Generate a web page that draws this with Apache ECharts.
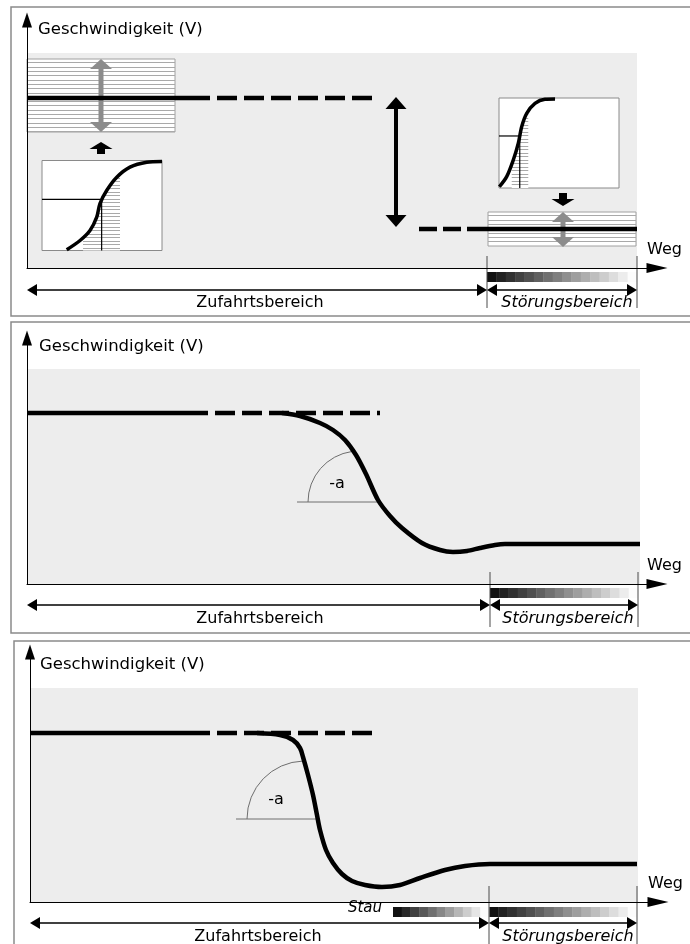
<!DOCTYPE html>
<html>
<head>
<meta charset="utf-8">
<title>Geschwindigkeit / Weg</title>
<script src="https://cdn.jsdelivr.net/npm/echarts@6.0.0/dist/echarts.min.js"></script>
<style>
    html, body { margin: 0; padding: 0; background: #fff; }
    #container { width: 690px; height: 944px; }
</style>
</head>
<body>
<div id="container"></div>
<script>
// Werte in Achseneinheiten: Weg nach rechts, Geschwindigkeit nach oben,
// Nullpunkt jeweils im Achsenkreuz des Teilbildes
var axisNames = ['Geschwindigkeit (V)', 'Weg'];
var zoneNames = ['Zufahrtsbereich', 'Störungsbereich', 'Stau'];
var slopeName = '-a';
var insetNames = ['%', 'V'];

// Bild 1: Verteilungen der Geschwindigkeit
var p1Grey = [[0, 0, 610, 215]];
var p1Free = [[0, 170], [163, 170]];
var p1FreeDash = [[163, 170], [351, 170]];
var p1SlowDash = [[392, 39], [456, 39]];
var p1Slow = [[456, 39], [610, 39]];
var p1Bands = [[0, 136, 148, 209], [461, 22, 609, 56]];
var p1BandArrows = [[74, 209, 74, 136, 1, 1], [536, 56, 536, 21, 1, 1]];
var p1DropArrow = [[369, 171, 369, 41, 1, 1]];
var p1LinkArrows = [[74, 114, 74, 126, 0, 1], [536, 75, 536, 62, 0, 1]];
var p1Zone = [460, 610];

// Summenkurven der Einschuebe (V, Anteil in %)
var sum1 = [[20.6, 0.8], [31.7, 11.1], [40, 22.2], [45.6, 37], [48.3, 52.2], [53.9, 66.7], [62.3, 81.4], [73.3, 92.6], [87.3, 98.1], [100, 98.9]];
var sum1Median = [49.7, 56.7];
var sum1Band = [34.2, 65];
var sum2 = [[0.3, 1.4], [6.4, 12.6], [11.9, 31.1], [16.1, 49.7], [18.9, 68.1], [23.1, 83], [30, 94.1], [38.3, 98.6], [46.7, 98.9]];
var sum2Median = [17.3, 57.8];
var sum2Band = [10.6, 24.4];

// Bild 2: Verzoegerung vor dem Stoerungsbereich
var p2Grey = [[0, 0, 613, 215]];
var p2Free = [[0, 171], [161, 171]];
var p2FreeDash = [[161, 171], [353, 171]];
var p2Curve = [[255, 171], [273, 168], [293, 161], [306, 154], [318, 144], [329, 129], [339, 110], [351, 84], [363, 68], [375, 56], [395, 41], [413, 34], [426, 32], [440, 33], [453, 36], [468, 39], [478, 40], [613, 40]];
var p2Base = [[270, 82, 351, 82, 0, 0]];
var p2Angle = [[332, 82, 51, 180, 262]];
var p2SlopeAt = [[310, 100]];
var p2Zone = [463, 611];

// Bild 3: starke Verzoegerung mit Stau
var p3Grey = [[0, 0, 608, 214]];
var p3Free = [[0, 169], [160, 169]];
var p3FreeDash = [[160, 169], [348, 169]];
var p3Curve = [[227, 169], [250, 167], [263, 162], [270, 154], [273, 145], [278, 127], [283, 107], [287, 87], [290, 72], [296, 52], [303, 39], [312, 28], [322, 21], [335, 17], [352, 15], [370, 17], [390, 24], [415, 32], [435, 36], [460, 38], [607, 38]];
var p3Base = [[206, 83, 286, 83, 0, 0]];
var p3Angle = [[275, 83, 58, 180, 268]];
var p3SlopeAt = [[246, 102]];
var p3Zone = [459, 607];
var p3Stau = [363, 459];

var SpeedChart = (function (echarts) {
    var chart;
    var FONT = '"DejaVu Sans", sans-serif';

    // ---------- kleine Geometriehelfer ----------
    function boxPoly(b) {
        return [[b[0], b[1]], [b[2], b[1]], [b[2], b[3]], [b[0], b[3]]];
    }
    function curveAt(c, x) {
        for (var i = 0; i < c.length - 1; i++) {
            if (x >= c[i][0] && x <= c[i + 1][0]) {
                var t = (x - c[i][0]) / (c[i + 1][0] - c[i][0]);
                return c[i][1] + t * (c[i + 1][1] - c[i][1]);
            }
        }
        return c[c.length - 1][1];
    }
    function underCurve(c, band) {
        var pts = [[band[0], 0], [band[0], curveAt(c, band[0])]];
        c.forEach(function (p) {
            if (p[0] > band[0] && p[0] < band[1]) pts.push(p);
        });
        pts.push([band[1], curveAt(c, band[1])], [band[1], 0]);
        return pts;
    }
    // waagrechte Schraffur innerhalb eines Polygons (Pixel)
    function scanLines(pts, gap, color) {
        var minY = Infinity, maxY = -Infinity, out = [];
        pts.forEach(function (p) {
            minY = Math.min(minY, p[1]);
            maxY = Math.max(maxY, p[1]);
        });
        for (var y = minY + gap * 0.8; y < maxY - 0.5; y += gap) {
            var yy = Math.round(y) + 0.5, xs = [];
            for (var i = 0; i < pts.length; i++) {
                var p = pts[i], q = pts[(i + 1) % pts.length];
                if ((p[1] <= yy && q[1] > yy) || (q[1] <= yy && p[1] > yy)) {
                    xs.push(p[0] + (yy - p[1]) * (q[0] - p[0]) / (q[1] - p[1]));
                }
            }
            xs.sort(function (a, b) { return a - b; });
            for (var k = 0; k + 1 < xs.length; k += 2) {
                out.push({ type: 'line', shape: { x1: xs[k], y1: yy, x2: xs[k + 1], y2: yy },
                    style: { stroke: color, lineWidth: 1 } });
            }
        }
        return out;
    }

    // ---------- Serien ----------
    function custom(grid, data, z, render) {
        return { type: 'custom', xAxisIndex: grid, yAxisIndex: grid, data: data, z: z,
            silent: true, animation: false, clip: false, renderItem: render };
    }
    function line(grid, data, z, width, dash, smooth) {
        return { type: 'line', xAxisIndex: grid, yAxisIndex: grid, data: data, z: z,
            symbol: 'none', showSymbol: false, silent: true, animation: false, smooth: smooth || false,
            lineStyle: { color: '#000', width: width, type: dash || 'solid', cap: 'butt' } };
    }
    function rects(grid, list, color, z) {
        return custom(grid, list, z, function (params, api) {
            var a = api.coord([api.value(0), api.value(1)]);
            var b = api.coord([api.value(2), api.value(3)]);
            return { type: 'rect', shape: { x: Math.min(a[0], b[0]), y: Math.min(a[1], b[1]),
                width: Math.abs(b[0] - a[0]), height: Math.abs(b[1] - a[1]) }, style: { fill: color } };
        });
    }
    function hatch(grid, polys, gap, border, z) {
        var data = polys.map(function (p) { return p[0]; });
        return custom(grid, data, z, function (params, api) {
            var pts = polys[params.dataIndex].map(function (p) { return api.coord(p); });
            var kids = [{ type: 'polygon', shape: { points: pts },
                style: { fill: '#fff', stroke: border || 'none', lineWidth: 1 } }];
            return { type: 'group', children: kids.concat(scanLines(pts, gap, '#a9a9a9')) };
        });
    }
    function arrows(grid, list, st, z) {
        return custom(grid, list, z, function (params, api) {
            var a = api.coord([api.value(0), api.value(1)]);
            var b = api.coord([api.value(2), api.value(3)]);
            var dx = b[0] - a[0], dy = b[1] - a[1];
            var len = Math.sqrt(dx * dx + dy * dy) || 1;
            var ux = dx / len, uy = dy / len, nx = -uy, ny = ux;
            var hl = st.headLen || 0, hw = (st.headWidth || 0) / 2;
            var s = a, e = b, kids = [];
            function head(tip, dir) {
                var bx = tip[0] - dir * ux * hl, by = tip[1] - dir * uy * hl;
                return { type: 'polygon', shape: { points: [tip, [bx + nx * hw, by + ny * hw], [bx - nx * hw, by - ny * hw]] },
                    style: { fill: st.color } };
            }
            if (api.value(4)) { s = [a[0] + ux * hl * 0.8, a[1] + uy * hl * 0.8]; kids.push(head(a, -1)); }
            if (api.value(5)) { e = [b[0] - ux * hl * 0.8, b[1] - uy * hl * 0.8]; kids.push(head(b, 1)); }
            kids.unshift({ type: 'line', shape: { x1: s[0], y1: s[1], x2: e[0], y2: e[1] },
                style: { stroke: st.color, lineWidth: st.width, lineCap: 'butt' } });
            return { type: 'group', children: kids };
        });
    }
    function arcs(grid, list, z) {
        return custom(grid, list, z, function (params, api) {
            var c = api.coord([api.value(0), api.value(1)]);
            var r = api.size([api.value(2), 0])[0];
            return { type: 'arc', shape: { cx: c[0], cy: c[1], r: r,
                startAngle: api.value(3) * Math.PI / 180, endAngle: api.value(4) * Math.PI / 180, clockwise: true },
                style: { stroke: '#6e6e6e', fill: 'none', lineWidth: 1 } };
        });
    }
    function ramps(grid, list, z) {
        return custom(grid, list, z, function (params, api) {
            var a = api.coord([api.value(0), api.value(1)]);
            var b = api.coord([api.value(2), api.value(3)]);
            var n = api.value(4), w = (b[0] - a[0]) / n, kids = [];
            for (var i = 0; i < n; i++) {
                var g = Math.round(18 + (252 - 18) * i / (n - 1));
                kids.push({ type: 'rect', shape: { x: a[0] + i * w, y: Math.min(a[1], b[1]), width: w + 0.4,
                    height: Math.abs(b[1] - a[1]) }, style: { fill: 'rgb(' + g + ',' + g + ',' + g + ')' } });
            }
            return { type: 'group', children: kids };
        });
    }
    function texts(grid, items, z) {
        var data = items.map(function (t) { return t.at; });
        return custom(grid, data, z, function (params, api) {
            var t = items[params.dataIndex];
            var p = api.coord(t.at);
            return { type: 'text', style: { text: t.text, x: p[0], y: p[1],
                font: (t.italic ? 'italic ' : '') + (t.size || 16) + 'px ' + FONT,
                fill: '#000', align: 'center', verticalAlign: 'middle' } };
        });
    }

    // Zufahrts- und Stoerungsbereich unter der Wegachse (Rahmenraster)
    function zones(grid, zone, lay, stau) {
        var out = [];
        out.push(arrows(grid, [[zone[0], lay.tick[0], zone[0], lay.tick[1], 0, 0],
            [zone[1], lay.tick[0], zone[1], lay.tick[1], 0, 0]], { color: '#4a4a4a', width: 1 }, 3));
        var r = [[zone[0], lay.ramp[0], zone[1], lay.ramp[1], 16]];
        if (stau) r.push([stau[0], lay.ramp[0], stau[1], lay.ramp[1], 11]);
        out.push(ramps(grid, r, 2));
        out.push(arrows(grid, [[0, lay.arrow, zone[0], lay.arrow, 1, 1],
            [zone[0], lay.arrow, zone[1], lay.arrow, 1, 1]],
            { color: '#000', width: 1.5, headLen: 10, headWidth: 12 }, 4));
        var t = [{ at: [lay.zuf, lay.text], text: zoneNames[0] },
            { at: [lay.stoer, lay.text], text: zoneNames[1], italic: true }];
        if (stau) t.push({ at: [lay.stau, lay.stauText], text: zoneNames[2], italic: true, size: 15 });
        out.push(texts(grid, t, 6));
        return out;
    }

    // ---------- Raster und Achsen ----------
    function frameGrid(l, t, w, h) {
        return { left: l, top: t, width: w, height: h, show: true, backgroundColor: 'transparent',
            borderColor: '#8a8a8a', borderWidth: 1.5, containLabel: false, outerBoundsMode: 'none' };
    }
    function plainGrid(l, t, w, h) {
        return { left: l, top: t, width: w, height: h, show: false, containLabel: false, outerBoundsMode: 'none' };
    }
    function insetGrid(l, t, w, h) {
        return { left: l, top: t, width: w, height: h, show: true, z: 1, backgroundColor: '#fff',
            borderColor: '#8a8a8a', borderWidth: 1, containLabel: false, outerBoundsMode: 'none' };
    }
    function hiddenAxis(grid, min, max) {
        return { type: 'value', gridIndex: grid, min: min, max: max, show: false };
    }
    function bare(o) {
        o.axisTick = { show: false };
        o.axisLabel = { show: false };
        o.splitLine = { show: false };
        return o;
    }
    function wegAxis(grid, max) {
        return bare({ type: 'value', gridIndex: grid, min: 0, max: max, z: 5,
            name: axisNames[1], nameLocation: 'end', nameGap: -10,
            nameTextStyle: { fontFamily: FONT, fontSize: 16, color: '#000', align: 'left',
                verticalAlign: 'bottom', padding: [0, 0, 10, 0] },
            axisLine: { show: true, onZero: true, symbol: ['none', 'triangle'], symbolSize: [10, 21],
                lineStyle: { color: '#000', width: 1 } } });
    }
    function speedAxis(grid, max, gap, pad) {
        return bare({ type: 'value', gridIndex: grid, min: 0, max: max, z: 5,
            name: axisNames[0], nameLocation: 'end', nameGap: gap,
            nameTextStyle: { fontFamily: FONT, fontSize: 16.5, color: '#000', align: 'left',
                verticalAlign: 'middle', padding: [0, 0, 0, pad] },
            axisLine: { show: true, onZero: true, symbol: ['none', 'triangle'], symbolSize: [10, 15],
                lineStyle: { color: '#000', width: 1 } } });
    }
    function insetX(grid) {
        return bare({ type: 'value', gridIndex: grid, min: 0, max: 100, name: insetNames[1],
            nameLocation: 'end', nameGap: -15, axisLine: { show: false },
            nameTextStyle: { fontFamily: FONT, fontSize: 11, color: '#000', align: 'left',
                verticalAlign: 'bottom', padding: [0, 0, 2, 0] } });
    }
    function insetY(grid) {
        return bare({ type: 'value', gridIndex: grid, min: 0, max: 100, name: insetNames[0],
            nameLocation: 'end', nameGap: -4, axisLine: { show: false },
            nameTextStyle: { fontFamily: FONT, fontSize: 11, color: '#000', align: 'left',
                verticalAlign: 'top', padding: [0, 0, 0, 3] } });
    }

    function insetSeries(grid, curve, median, band) {
        return [
            hatch(grid, [underCurve(curve, band)], 3.5, null, 2),
            arrows(grid, [[0, median[1], median[0], median[1], 0, 0],
                [median[0], median[1], median[0], 0, 0, 0]], { color: '#000', width: 1.2 }, 3),
            line(grid, curve, 4, 3.5, 'solid', 0.3)
        ];
    }

    function buildOption() {
        var dash = [20, 7];
        var grey = '#ededed';
        var bandArrow = { color: '#8c8c8c', width: 5, headLen: 10, headWidth: 22 };
        var series = [];

        // Bild 1 (Rahmen 0, Achsen 1)
        series.push(rects(1, p1Grey, grey, 0));
        series.push(hatch(1, p1Bands.map(boxPoly), 4.3, '#a0a0a0', 2));
        series.push(arrows(1, p1BandArrows, bandArrow, 3));
        series.push(line(1, p1Free, 4, 4.5));
        series.push(line(1, p1FreeDash, 4, 4.5, dash));
        series.push(line(1, p1SlowDash, 4, 4.5, [18, 6]));
        series.push(line(1, p1Slow, 4, 4.5));
        series.push(arrows(1, p1DropArrow, { color: '#000', width: 4, headLen: 12, headWidth: 21 }, 5));
        series.push(arrows(1, p1LinkArrows, { color: '#000', width: 8, headLen: 7, headWidth: 23 }, 5));
        series = series.concat(zones(0, p1Zone,
            { tick: [12, -40], ramp: [-4, -14], arrow: -22, text: -35, zuf: 233, stoer: 540 }));
        series = series.concat(insetSeries(6, sum1, sum1Median, sum1Band));
        series = series.concat(insetSeries(7, sum2, sum2Median, sum2Band));

        // Bild 2 (Rahmen 2, Achsen 3)
        series.push(rects(3, p2Grey, grey, 0));
        series.push(line(3, p2Free, 4, 4.5));
        series.push(line(3, p2FreeDash, 4, 4.5, dash));
        series.push(line(3, p2Curve, 4, 4.5, 'solid', 0.3));
        series.push(arrows(3, p2Base, { color: '#6e6e6e', width: 1 }, 3));
        series.push(arcs(3, p2Angle, 3));
        series.push(texts(3, [{ at: p2SlopeAt[0], text: slopeName }], 6));
        series = series.concat(zones(2, p2Zone,
            { tick: [12, -43], ramp: [-4, -14], arrow: -21, text: -35, zuf: 233, stoer: 541 }));

        // Bild 3 (Rahmen 4, Achsen 5)
        series.push(rects(5, p3Grey, grey, 0));
        series.push(line(5, p3Free, 4, 4.5));
        series.push(line(5, p3FreeDash, 4, 4.5, dash));
        series.push(line(5, p3Curve, 4, 4.5, 'solid', 0.3));
        series.push(arrows(5, p3Base, { color: '#6e6e6e', width: 1 }, 3));
        series.push(arcs(5, p3Angle, 3));
        series.push(texts(5, [{ at: p3SlopeAt[0], text: slopeName }], 6));
        series = series.concat(zones(4, p3Zone,
            { tick: [16, -42], ramp: [-5, -15], arrow: -21, text: -35, zuf: 228, stoer: 538,
              stau: 335, stauText: -6 }, p3Stau));

        return {
            animation: false,
            backgroundColor: '#fff',
            grid: [
                frameGrid(11, 7, 700, 309), plainGrid(27, 20, 630, 248),
                frameGrid(11, 322, 700, 311), plainGrid(27, 338, 630, 246),
                frameGrid(14, 641, 700, 320), plainGrid(30, 652, 628, 250),
                insetGrid(42, 160.5, 120, 90), insetGrid(499, 98, 120, 90)
            ],
            xAxis: [
                hiddenAxis(0, -16, 684), wegAxis(1, 630),
                hiddenAxis(2, -16, 684), wegAxis(3, 630),
                hiddenAxis(4, -16, 684), wegAxis(5, 628),
                insetX(6), insetX(7)
            ],
            yAxis: [
                hiddenAxis(0, -48, 261), speedAxis(1, 248, -9.5, 11),
                hiddenAxis(2, -49, 262), speedAxis(3, 246, -9, 12),
                hiddenAxis(4, -59, 261), speedAxis(5, 250, -13, 10),
                insetY(6), insetY(7)
            ],
            series: series
        };
    }

    return {
        init: function () {
            chart = echarts.init(document.getElementById('container'), null, { renderer: 'canvas' });
            chart.setOption(buildOption());
        }
    };
})(echarts);

SpeedChart.init();
</script>
</body>
</html>
